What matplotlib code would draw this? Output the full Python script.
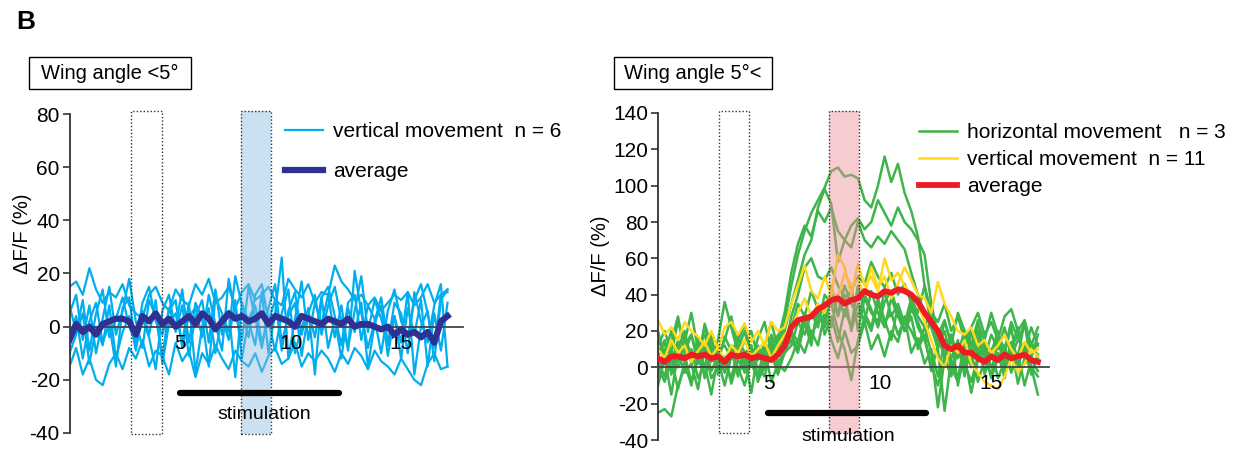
import numpy as np
import matplotlib
matplotlib.use('Agg')  # no display
import matplotlib.pyplot as plt
from matplotlib.patches import Rectangle

plt.rcParams['font.family'] = ['Liberation Sans', 'DejaVu Sans']
plt.rcParams['axes.unicode_minus'] = False

# sampling grid, seconds (58 frames, 0.3 s apart)
time_s = np.round(np.arange(58) * 0.3, 1)

# ---- left panel: wing angle < 5 deg, vertical movement n = 6 ----
left_traces = [
    [15, 17, 12, 22, 14, 9, 13, 11, 16, 8,
     5, 3, 12, 15, 9, 6, 14, 10, 8, 16,
     12, 18, 9, 11, 15, 7, 13, 16, 10, 12,
     15, 10, 8, 18, 14, 11, 16, 9, 13, 12,
     23, 17, 14, 10, 12, 8, 11, 6, 9, 12,
     10, 13, 8, 11, 16, 9, 12, 13],
    [-15, -8, -18, -12, -20, -22, -14, -10, -16, -8,
     -12, -5, -15, -9, -11, -18, -6, -13, -9, -19,
     -10, -14, -7, -12, -16, -9, -13, -15, -10, -17,
     -11, -8, -14, -12, -6, -15, -10, -13, -9, -12,
     -17, -10, -14, -8, -11, -16, -9, -13, -15, -18,
     -12, -16, -20, -22, -14, -10, -16, -15],
    [5, 12, -5, 8, -10, 3, 15, -3, 6, 18,
     2, -8, 10, 4, -12, 7, 0, 14, -6, 9,
     3, -15, 11, 5, -2, 19, 8, -4, 12, 16,
     2, 10, -9, 6, 13, -3, 7, -18, 11, 15,
     4, -7, 9, 12, -5, 8, 3, -10, 6, 14,
     2, -4, 10, 16, 5, -8, 12, 14],
    [-5, 4, -12, 2, 9, -6, 1, -15, 7, 11,
     -8, 3, -4, -16, 6, 12, -2, 8, -11, 4,
     10, -6, 14, -3, 6, -19, 9, 2, -7, 13,
     -10, 5, 26, -12, 3, 17, -5, 9, 1, 12,
     -4, 8, -9, 21, 5, -8, 2, 11, -6, 4,
     -12, 7, -3, 10, -15, 5, -9, 9],
    [8, -2, 10, -9, 5, 14, -4, 3, 11, 0,
     -6, 9, 15, 2, -3, 6, 10, -8, 4, 7,
     -4, 12, 1, -9, 18, 5, -5, 15, 3, -8,
     7, 16, -6, 4, 9, -11, 5, 12, -3, 8,
     15, 2, -8, 6, 19, -2, 10, 3, -7, 9,
     5, -10, 13, 2, -6, 8, 16, -15],
    [-10, -3, 5, -14, 0, -7, 8, -12, -2, 4,
     -9, 6, -3, 10, -14, 1, 5, -6, 9, -17,
     0, 7, -10, 4, -5, 10, -12, 3, 8, -6,
     2, -9, 5, 14, -10, 0, 6, -4, 11, -8,
     3, -12, 7, -2, 9, -15, 1, 8, -11, 4,
     -6, 13, -18, 0, 6, -13, 10, 14],
]
left_avg = [-5, 1, -2, 0, -3, 1, 2, 3, 3, 2,
            -3, 4, 2, 5, 1, 3, 0, 2, 4, 1,
            5, 3, -1, 2, 5, 3, 4, 2, 3, 5,
            1, 4, 3, 2, 0, 4, 3, 2, 1, 3,
            2, 1, 3, 0, 1, 1, 0, -1, 0, -3,
            -1, -3, -2, -4, -2, -6, 2, 4]

# ---- right panel: wing angle 5 deg < ----
right_green = [
    [8, 15, 5, 12, 18, 6, 10, 14, 3, 9,
     12, 5, 16, 8, 11, 4, 13, 7, 10, 25,
     45, 62, 75, 85, 92, 99, 108, 110, 105, 106,
     104, 92, 88, 100, 116, 102, 112, 96, 86, 72,
     45, 22, 15, 8, 18, 5, 12, 20, 6, 14,
     9, 16, 3, 11, 18, 7, 13, 5],
    [3, -5, 10, 0, 7, -8, 5, 12, -2, 6,
     0, 9, -4, 8, 2, -6, 11, 4, 15, 30,
     52, 68, 78, 72, 86, 80, 88, 75, 70, 78,
     82, 76, 80, 92, 85, 78, 88, 80, 76, 70,
     62, 35, 18, 5, -5, 10, 2, -8, 6, 12,
     0, 8, -6, 14, 3, 10, -4, 7],
    [15, 8, 20, 3, 12, 18, 6, 22, 10, 2,
     17, 9, 14, 24, 7, 12, 3, 18, 9, 20,
     35, 48, 62, 70, 88, 98, 90, 58, 70, 66,
     80, 70, 66, 72, 68, 75, 70, 65, 52, 40,
     30, 22, 10, 25, 14, 8, 20, 12, 26, 5,
     18, 10, 22, 6, 15, 24, 8, 13],
    [-10, 5, -15, 8, -3, 2, -12, 10, -6, 0,
     6, -9, 4, -2, 12, -7, 0, 8, -4, 10,
     28, 40, 55, 60, 50, 48, 55, 45, 38, 42,
     50, 46, 58, 50, 44, 52, 40, 46, 35, 22,
     15, 2, -10, 6, -4, 12, -2, 8, -8, 4,
     10, -6, 3, 12, -9, 5, 0, -5],
    [-5, 10, -2, 15, 4, -10, 8, 0, 18, -4,
     3, 12, -5, 6, -14, 9, 2, 15, -3, 8,
     12, 25, 18, 30, 22, 40, 35, 20, 10, -7,
     15, 28, 20, 35, 25, 30, 18, 26, 20, 12,
     22, 8, -22, 5, 18, -10, 12, 0, 20, 6,
     -5, 15, 8, 22, 0, 12, 5, 18],
    [-25, -23, -27, -10, 0, -8, 5, -4, 8, -2,
     4, -6, 10, -3, 6, 0, -5, 12, 3, 8,
     18, 10, 25, 15, 30, 22, 45, 28, 40, 20,
     35, 25, 42, 30, 22, 38, 28, 20, 32, 25,
     15, 28, 10, -24, 5, 15, -5, 20, 10, -2,
     8, 20, -3, 12, 6, 25, 0, -15],
    [12, 20, 8, 25, 14, 30, 10, 18, 6, 15,
     36, 22, 8, 14, 20, 5, 12, 25, 10, 18,
     20, 14, 30, 18, 25, 35, 22, 40, 28, 45,
     20, 38, 30, 25, 42, 28, 35, 24, 38, 30,
     45, 30, 25, 35, 20, 28, 15, 22, 30, 18,
     25, 15, 28, 32, 20, 26, 12, 22],
    [0, -8, 5, -12, 3, 10, -6, 2, -15, 6,
     -3, 8, 0, -10, 5, -4, 10, -8, 2, -2,
     5, 15, 8, 20, 12, 30, 15, 5, 20, 8,
     12, 25, 10, 18, 6, 20, 14, 28, 8, 16,
     2, 10, -5, 15, 0, -8, 6, -14, 4, 10,
     -6, 5, 12, -3, 8, -10, 4, -2],
    [20, 5, 14, 28, 8, 18, 2, 24, 12, 6,
     15, 28, 10, 20, 4, 16, 25, 8, 18, 12,
     22, 35, 28, 42, 32, 25, 38, 30, 45, 35,
     28, 40, 32, 22, 36, 42, 30, 20, 35, 28,
     22, 32, 18, 26, 12, 30, 20, 8, 24, 15,
     30, 18, 10, 25, 16, 8, 22, 12],
    [6, 14, -4, 8, 20, 2, 16, -6, 10, 4,
     -10, 6, 18, 0, 12, -8, 5, 14, -2, 10,
     15, 8, 25, 12, 35, 18, 28, 14, 32, 22,
     45, 30, 22, 38, 26, 15, 34, 20, 28, 10,
     18, -2, 12, 20, 4, -6, 14, 2, 18, -4,
     8, 16, 0, 10, 22, 4, 14, 6],
]
right_yellow = [
    [26, 18, 22, 15, 25, 20, 17, 12, 20, 10,
     22, 25, 18, 24, 14, 20, 12, 25, 20, 22,
     35, 45, 56, 42, 38, 50, 40, 62, 55, 40,
     57, 45, 50, 42, 60, 48, 52, 45, 40, 35,
     25, 15, 5, 0, 12, 8, 15, 2, -3, -8,
     -10, -12, -5, 5, -3, 2, 10, 6],
    [10, 5, 15, 8, 12, 3, 9, 14, 6, 11,
     4, 12, 8, 15, 6, 10, 14, 5, 12, 18,
     22, 30, 38, 28, 35, 30, 42, 38, 52, 45,
     48, 40, 55, 44, 50, 38, 46, 55, 48, 40,
     38, 30, 47, 35, 28, 20, 18, 22, 12, 15,
     8, 12, 18, 10, 5, 14, 8, 10],
]
right_avg = [5, 3, 6, 6, 5, 7, 6, 7, 5, 6,
             3, 7, 6, 7, 5, 6, 5, 4, 7, 12,
             22, 26, 27, 28, 32, 34, 37, 38, 35, 37,
             38, 42, 40, 39, 42, 41, 43, 42, 40, 36,
             30, 25, 20, 12, 10, 12, 8, 8, 5, 3,
             6, 4, 7, 5, 6, 7, 4, 3]

# analysis windows (s)
left_pre, left_peak, left_stim = (2.8, 4.2), (7.75, 9.1), (5.0, 12.2)
right_pre, right_peak, right_stim = (2.75, 4.1), (7.7, 9.05), (4.95, 12.05)

W, H = 1243, 455
fig = plt.figure(figsize=(W / 100, H / 100), dpi=100)
ax_l = fig.add_axes([69.5 / W, 1 - 433 / H, 393.5 / W, 319 / H])
ax_r = fig.add_axes([658 / W, 1 - 440 / H, 391 / W, 327 / H])


def style_axes(ax, xmax, ylim, yticks):
    ax.set_xlim(0, xmax)
    ax.set_ylim(*ylim)
    for side in ('top', 'right'):
        ax.spines[side].set_visible(False)
    ax.spines['bottom'].set_position(('data', 0))
    ax.spines['bottom'].set_color('#444444')
    ax.spines['left'].set_color('#333333')
    ax.spines['bottom'].set_linewidth(1.3)
    ax.spines['left'].set_linewidth(1.3)
    ax.set_xticks([5, 10, 15])
    ax.tick_params(axis='x', length=0, pad=5, labelsize=15)
    ax.xaxis.set_zorder(3.5)  # keep time labels readable over the traces
    ax.set_yticks(yticks)
    ax.tick_params(axis='y', length=5, width=1.2, color='#333333', labelsize=15, pad=2)
    ax.set_facecolor('none')


def draw_windows(ax, pre, peak, ybot, ytop, shade):
    h = ytop - ybot
    ax.add_patch(Rectangle((pre[0], ybot), pre[1] - pre[0], h, fill=False, ec='#333333',
                           ls=(0, (1, 1.5)), lw=1, clip_on=False, zorder=3))
    ax.add_patch(Rectangle((peak[0], ybot), peak[1] - peak[0], h, fc=shade, ec='none',
                           alpha=0.45, clip_on=False, zorder=3))
    ax.add_patch(Rectangle((peak[0], ybot), peak[1] - peak[0], h, fill=False, ec='#333333',
                           ls=(0, (1, 1.5)), lw=1, clip_on=False, zorder=3.1))


def draw_stim(ax, stim, ybar, xtext, ytext):
    ax.plot(stim, [ybar, ybar], color='black', lw=4.5, solid_capstyle='round', zorder=5)
    ax.text(xtext, ytext, 'stimulation', ha='center', va='center', fontsize=14)


def condition_box(x0, x1, label):
    # framed condition label above each panel
    fig.add_artist(Rectangle((x0 / W, 1 - 89 / H), (x1 - x0) / W, 32 / H,
                             transform=fig.transFigure, fill=False, ec='black', lw=1))
    fig.text((x0 + x1) / 2 / W, 1 - 73 / H, label, fontsize=14.5, ha='center', va='center')


# left panel
style_axes(ax_l, 17.8, (-40, 80), range(-40, 81, 20))
h_cyan = None
for tr in left_traces:
    ln, = ax_l.plot(time_s, tr, color='#00AEEF', lw=1.6, zorder=2)
    h_cyan = h_cyan or ln
h_navy, = ax_l.plot(time_s, left_avg, color='#2E3192', lw=4.5, zorder=4)
draw_windows(ax_l, left_pre, left_peak, -40.5, 81, '#8DBBDF')
draw_stim(ax_l, left_stim, -25, 8.8, -33)
ax_l.set_ylabel('ΔF/F (%)', fontsize=14.5)
ax_l.yaxis.set_label_coords(-0.095, 0.624)
ax_l.legend([h_cyan, h_navy], ['vertical movement  n = 6', 'average'],
            loc='upper left', bbox_to_anchor=(285 / W, 1 - 122 / H),
            bbox_transform=fig.transFigure, frameon=False, fontsize=15,
            handlelength=1.8, handletextpad=0.5, labelspacing=1.0,
            borderpad=0, borderaxespad=0)

# right panel
style_axes(ax_r, 17.6, (-40, 140), range(-40, 141, 20))
h_green = None
for tr in right_green:
    ln, = ax_r.plot(time_s, tr, color='#3DB54A', lw=1.8, zorder=2)
    h_green = h_green or ln
h_yellow = None
for tr in right_yellow:
    ln, = ax_r.plot(time_s, tr, color='#FFD91A', lw=1.8, zorder=2.2)
    h_yellow = h_yellow or ln
h_red, = ax_r.plot(time_s, right_avg, color='#ED1C24', lw=4.2, zorder=4)
draw_windows(ax_r, right_pre, right_peak, -36, 141, '#EE8F97')
draw_stim(ax_r, right_stim, -25, 8.55, -38)
ax_r.set_ylabel('ΔF/F (%)', fontsize=14.5)
ax_r.yaxis.set_label_coords(-0.123, 0.563)
ax_r.legend([h_green, h_yellow, h_red],
            ['horizontal movement   n = 3', 'vertical movement  n = 11', 'average'],
            loc='upper left', bbox_to_anchor=(919 / W, 1 - 123 / H),
            bbox_transform=fig.transFigure, frameon=False, fontsize=15,
            handlelength=1.8, handletextpad=0.5, labelspacing=0.38,
            borderpad=0, borderaxespad=0)

# panel letter and condition boxes
fig.text(16 / W, 1 - 22 / H, 'B', fontsize=19, fontweight='bold', va='center')
condition_box(29, 191, 'Wing angle <5°')
condition_box(614, 772, 'Wing angle 5°<')

fig.savefig('out.png', dpi=100)
